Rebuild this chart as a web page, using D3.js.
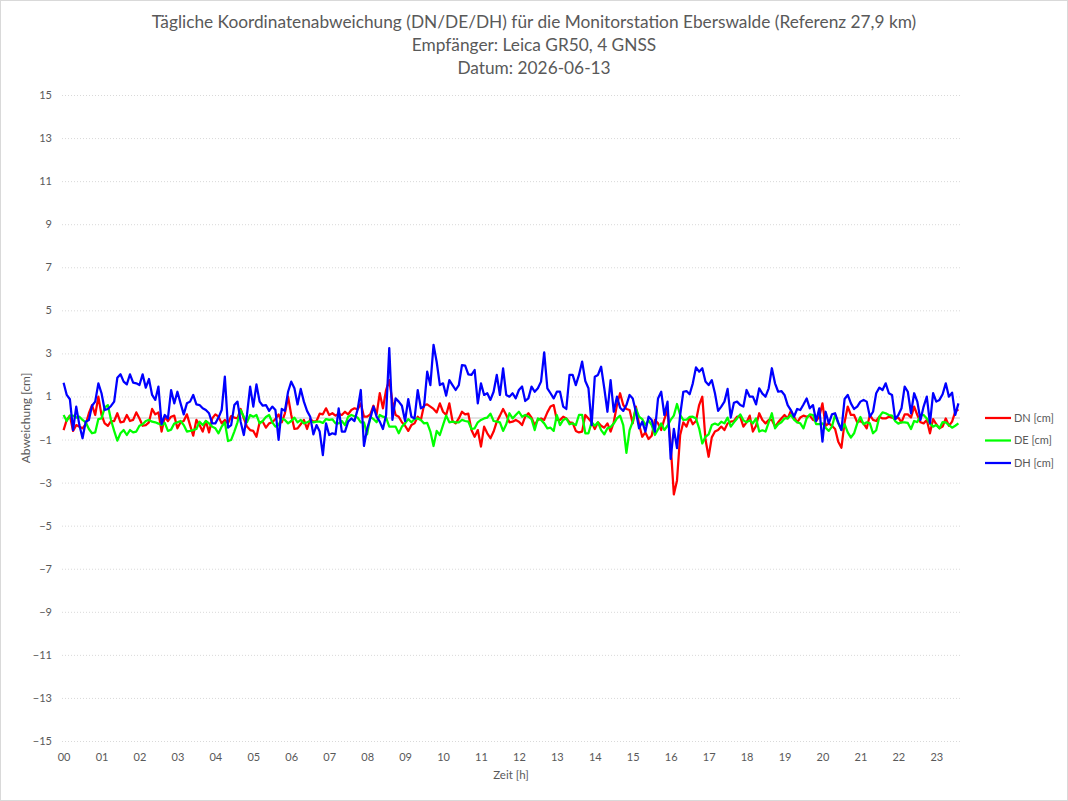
<!DOCTYPE html>
<html>
<head>
<meta charset="utf-8">
<script src="https://cdn.jsdelivr.net/npm/d3@7"></script>
<style>
  body { margin: 0; background: #fff; }
  text { font-family: Lato, 'Open Sans', sans-serif; fill: #595959; }
</style>
</head>
<body>
<div id="chart"></div>
<script>
const titleLines = [
  'Tägliche Koordinatenabweichung (DN/DE/DH) für die Monitorstation Eberswalde (Referenz 27,9 km)',
  'Empfänger: Leica GR50, 4 GNSS',
  'Datum: 2026-06-13'
]
const hourLabels = ['00', '01', '02', '03', '04', '05', '06', '07', '08', '09', '10', '11',
  '12', '13', '14', '15', '16', '17', '18', '19', '20', '21', '22', '23']
const yTicks = [-15, -13, -11, -9, -7, -5, -3, -1, 1, 3, 5, 7, 9, 11, 13, 15]
const seriesNames = ['DN [cm]', 'DE [cm]', 'DH [cm]']

// 5-minute values, 00:00 .. 23:35
const dnValues = [-0.56,-0.09,0.11,-0.60,-0.33,-0.40,-0.48,-0.29,0.22,0.60,0.14,0.99,0.14,-0.25,-0.36,-0.14,-0.14,0.22,-0.20,-0.17,0.14,-0.14,-0.09,0.26,-0.02,-0.36,-0.33,-0.20,0.42,0.17,0.26,-0.63,0.06,-0.14,0.06,0.11,-0.48,-0.20,-0.14,0.17,-0.33,-0.82,-0.09,-0.33,-0.63,-0.14,-0.67,-0.02,
  0.17,0.06,-0.25,-0.09,-0.25,0.09,0.02,-0.02,0.42,-0.02,-0.40,-0.56,-0.60,-0.87,-0.20,-0.17,-0.45,-0.25,-0.20,-0.05,0.17,-0.20,0.22,0.99,0.14,-0.51,-0.48,-0.29,-0.09,-0.51,-0.05,-0.17,-0.14,0.20,0.17,0.45,0.14,0.22,0.11,0.20,0.14,0.29,0.17,0.37,0.45,0.40,0.68,
  0.06,0.06,0.17,0.57,0.17,1.15,0.45,1.30,1.76,0.76,0.14,0.06,-0.20,-0.36,-0.60,-0.33,-0.25,0.06,-0.09,0.60,0.63,0.53,0.42,0.26,0.68,0.29,0.14,0.68,-0.14,-0.25,-0.02,0.29,0.17,0.20,-0.56,-0.87,-0.56,-1.33,-0.40,-0.71,-0.94,-0.63,-0.17,0.11,0.42,0.14,-0.20,
  -0.17,-0.09,-0.17,-0.33,0.06,0.22,0.02,-0.33,-0.09,-0.02,-0.09,0.26,0.53,0.60,-0.09,-0.09,0.06,-0.02,-0.20,-0.23,-0.60,-0.67,-0.63,0.14,-0.02,-0.20,-0.51,-0.20,-0.36,-0.45,-0.25,-0.63,-0.20,0.60,1.15,0.60,0.42,0.37,-0.25,0.53,-0.29,-0.87,-0.67,-0.98,-0.82,-0.09,-0.25,
  -0.56,-0.05,0.37,-1.25,-3.55,-2.90,-0.79,-0.20,-0.40,0.02,-0.29,-0.14,0.60,0.99,-1.00,-1.80,-0.90,-0.63,-0.56,-0.40,-0.56,-0.25,-0.17,-0.14,0.06,0.05,-0.40,-0.20,0.11,-0.63,-0.36,0.22,-0.09,-0.25,-0.09,-0.09,-0.40,-0.20,-0.02,0.14,-0.02,0.33,0.06,-0.20,0.02,0.11,0.06,0.11,
  -0.09,-0.14,0.06,0.68,-0.36,-0.25,-0.36,-0.51,-1.10,-1.38,-0.20,0.53,0.14,0.14,-0.20,-0.14,-0.25,-0.48,0.14,-0.09,-0.14,0.06,-0.02,-0.02,0.06,0.02,-0.05,0.02,-0.20,0.17,0.17,0.02,0.53,0.14,-0.20,-0.25,-0.09,-0.71,-0.05,-0.29,-0.48,-0.40,-0.02,-0.36,-0.17,0.30,0.40]

const deValues = [0.14,-0.14,0.11,0.11,0.02,0.06,-0.09,-0.20,-0.51,-0.71,-0.67,-0.05,-0.02,0.48,0.60,-0.09,-0.60,-1.05,-0.71,-0.56,-0.79,-0.56,-0.67,-0.63,-0.36,-0.29,-0.14,-0.09,-0.17,-0.20,-0.26,-0.33,-0.23,-0.60,-0.54,-0.26,-0.20,-0.14,-0.33,-0.63,-0.60,-0.56,-0.51,-0.17,-0.33,-0.14,-0.25,-0.40,
  -0.48,-0.71,-0.40,-0.20,-1.07,-1.02,-0.63,-0.20,0.37,0.06,-0.20,0.14,0.06,0.14,-0.25,-0.14,0.05,0.14,-0.20,-0.40,-0.33,-0.02,-0.09,-0.25,-0.14,0.02,-0.20,-0.09,-0.25,-0.20,-0.14,-0.20,-0.17,-0.17,-0.23,-0.05,-0.09,-0.06,-0.25,-0.25,-0.14,-0.33,0.06,0.14,0.08,0.02,-0.20,
  -0.20,-0.76,0.06,-0.05,-0.20,0.14,0.06,0.02,-0.40,-0.40,-0.40,-0.71,-0.40,-0.25,-0.05,-0.20,-0.05,-0.02,-0.09,-0.25,-0.23,-0.63,-1.30,-0.60,-0.79,-0.33,0.11,-0.20,-0.17,-0.20,-0.20,-0.09,-0.14,-0.17,-0.51,-0.48,-0.20,-0.09,-0.02,0.02,0.20,-0.14,-0.17,-0.20,-0.60,-0.29,0.22,
  -0.02,0.14,0.29,0.06,0.14,0.06,-0.05,-0.56,-0.02,-0.09,-0.25,-0.48,-0.45,-0.60,0.14,-0.33,-0.09,-0.02,-0.29,-0.25,-0.33,0.14,0.14,-0.71,-0.71,-0.20,-0.36,-0.20,-0.56,-0.76,-0.48,-0.42,-0.26,-0.02,0.11,-0.33,-1.62,-0.56,-0.17,0.45,0.06,-0.05,-0.33,-0.11,-0.33,-0.79,-0.53,
  -0.25,-0.56,-0.36,-0.09,0.11,0.65,0.14,-0.09,-0.08,0.05,0.06,-0.02,-0.48,-1.18,-0.87,-0.76,-0.33,-0.26,-0.33,-0.17,-0.25,0.02,-0.40,-0.20,-0.02,0.17,-0.11,-0.20,-0.11,-0.25,-0.02,-0.63,-0.57,-0.63,-0.20,0.22,-0.48,-0.29,-0.20,-0.02,-0.02,0.14,-0.08,-0.20,-0.25,-0.48,-0.02,0.17,
  0.14,-0.29,-0.29,-0.25,-0.45,-0.60,-0.40,0.14,-0.25,-0.56,-0.29,-0.67,-0.91,-0.71,-0.25,0.05,-0.29,-0.20,-0.25,-0.71,-0.57,0.06,0.26,0.22,0.14,0.11,-0.14,-0.26,-0.20,-0.20,-0.23,-0.51,-0.14,-0.19,0.11,0.14,-0.02,-0.25,-0.40,-0.33,-0.48,-0.19,-0.20,-0.33,-0.45,-0.36,-0.25]

const dhValues = [1.64,1.07,0.87,-0.56,0.53,-0.33,-0.94,-0.17,-0.09,0.57,0.76,1.61,1.15,0.37,0.42,0.56,0.76,1.87,2.03,1.69,1.56,2.03,1.64,1.61,1.53,2.03,1.41,1.81,1.07,0.84,1.46,-0.29,0.14,-0.02,1.30,0.68,1.22,0.68,0.17,0.68,0.76,1.07,0.63,0.60,0.45,0.37,0.22,-0.25,
  -0.25,0.02,0.37,1.92,-0.45,-0.33,0.60,0.76,-0.17,-0.79,0.14,1.46,0.53,1.56,0.76,0.57,0.60,0.33,0.53,0.37,-1.02,0.42,0.33,1.22,1.69,1.38,0.63,1.35,0.76,0.33,0.06,-0.76,-0.33,-0.63,-1.72,-0.25,-0.79,-0.71,-0.76,0.45,-0.63,-0.63,-0.17,-0.02,-0.14,0.40,1.30,
  -1.30,-0.50,-0.02,0.53,0.06,-0.17,-0.51,0.14,3.25,-0.09,0.91,0.76,0.57,-0.14,0.88,0.06,-0.02,1.30,0.45,0.53,2.15,1.53,3.40,2.60,1.53,1.61,1.04,1.76,1.53,1.30,1.53,2.46,2.43,2.03,2.00,2.23,0.68,1.61,1.07,1.15,0.84,1.22,2.00,1.07,2.31,1.07,0.99,
  1.15,0.91,1.30,1.46,0.79,0.91,1.46,1.22,1.38,1.69,3.05,1.38,1.15,0.91,1.22,1.22,0.53,0.42,2.00,2.00,1.53,2.00,2.62,1.72,1.38,-0.33,1.92,2.00,2.38,1.38,0.29,1.76,0.29,0.99,0.48,0.33,0.60,1.07,0.91,0.29,-0.48,-0.17,-0.63,0.06,-0.09,-0.63,0.91,
  1.22,0.14,0.76,-1.90,-0.50,-1.40,0.14,1.22,1.25,1.10,1.61,2.35,2.15,2.31,1.69,1.53,1.76,1.15,0.33,0.53,0.76,1.35,0.02,0.71,0.76,0.60,0.53,1.30,0.99,0.99,0.63,1.38,1.13,0.99,1.38,2.31,1.61,1.22,1.25,1.07,0.60,0.37,0.06,0.42,0.37,0.63,0.91,0.45,
  0.60,-0.14,0.45,-1.10,0.29,-0.25,0.17,0.22,-0.20,-0.56,0.88,1.07,0.68,0.42,0.53,0.76,0.84,0.76,0.06,0.29,1.15,1.41,1.30,1.61,1.15,1.07,-0.05,0.14,0.45,1.46,1.22,0.22,1.15,0.76,-0.09,0.53,0.99,-0.25,1.15,0.76,0.84,1.10,1.61,0.99,1.18,0.14,0.68]

const colors = ['#ff0000', '#00ff00', '#0000ff']
const series = [dnValues, deValues, dhValues]

const totalWidth = 1068
const totalHeight = 801
const margin = { top: 95, left: 62, right: 108, bottom: 60 }
const width = totalWidth - margin.left - margin.right
const height = totalHeight - margin.top - margin.bottom

const root = d3
  .select('#chart')
  .append('svg')
  .attr('width', totalWidth)
  .attr('height', totalHeight)

root
  .append('rect')
  .attr('x', 0.5)
  .attr('y', 0.5)
  .attr('width', totalWidth - 1)
  .attr('height', totalHeight - 1)
  .attr('fill', '#fff')
  .attr('stroke', '#d9d9d9')

root
  .selectAll('.title')
  .data(titleLines)
  .enter()
  .append('text')
  .attr('class', 'title')
  .attr('x', totalWidth / 2)
  .attr('y', (d, i) => 28 + i * 23)
  .attr('text-anchor', 'middle')
  .attr('font-size', 17.3)
  .text(d => d)

const svg = root
  .append('g')
  .attr('transform', 'translate(' + margin.left + ',' + margin.top + ')')

const n = dnValues.length
const xPositionScale = d3.scaleLinear().domain([-0.5, n - 0.5]).range([0, width])
const yPositionScale = d3.scaleLinear().domain([-15, 15]).range([height, 0])

// gridlines + y labels
const yAxis = d3
  .axisLeft(yPositionScale)
  .tickValues(yTicks)
  .tickSize(-width)
  .tickPadding(10)
svg
  .append('g')
  .attr('class', 'axis y-axis')
  .call(yAxis)
svg.selectAll('.y-axis path').remove()
svg
  .selectAll('.y-axis line')
  .attr('stroke', '#d9d9d9')
  .attr('stroke-dasharray', '1,2')
svg
  .selectAll('.y-axis text')
  .attr('font-size', 11)
  .attr('fill', '#595959')

// zero line (category axis crossing)
svg
  .append('line')
  .attr('x1', 0)
  .attr('x2', width)
  .attr('y1', yPositionScale(0))
  .attr('y2', yPositionScale(0))
  .attr('stroke', '#c8c8c8')
  .attr('stroke-width', 1)

// x labels at the bottom
const xAxis = d3
  .axisBottom(xPositionScale)
  .tickValues(hourLabels.map((d, i) => i * 12))
  .tickFormat((d, i) => hourLabels[i])
  .tickSize(0)
  .tickPadding(12)
svg
  .append('g')
  .attr('class', 'axis x-axis')
  .attr('transform', 'translate(0,' + height + ')')
  .call(xAxis)
svg.selectAll('.x-axis path').remove()
svg
  .selectAll('.x-axis text')
  .attr('font-size', 11)
  .attr('fill', '#595959')

const line = d3
  .line()
  .x((d, i) => xPositionScale(i))
  .y(d => yPositionScale(d))

series.forEach(function(values, k) {
  svg
    .append('path')
    .datum(values)
    .attr('d', line)
    .attr('fill', 'none')
    .attr('stroke', colors[k])
    .attr('stroke-width', 2.25)
    .attr('stroke-linejoin', 'round')
})

// axis titles
root
  .append('text')
  .text('Zeit [h]')
  .attr('x', margin.left + width / 2)
  .attr('y', 779)
  .attr('text-anchor', 'middle')
  .attr('font-size', 11.5)

root
  .append('text')
  .text('Abweichung [cm]')
  .attr('transform', 'translate(30,' + (margin.top + yPositionScale(0)) + ') rotate(-90)')
  .attr('text-anchor', 'middle')
  .attr('font-size', 12)

// legend
const legend = root
  .selectAll('.legend')
  .data(seriesNames)
  .enter()
  .append('g')
  .attr('class', 'legend')
  .attr('transform', (d, i) => 'translate(985,' + (418 + i * 22.5) + ')')

legend
  .append('line')
  .attr('x1', 0)
  .attr('x2', 26)
  .attr('stroke', (d, i) => colors[i])
  .attr('stroke-width', 2.25)

legend
  .append('text')
  .attr('x', 29)
  .attr('dy', '0.35em')
  .attr('font-size', 11)
  .text(d => d)
</script>
</body>
</html>
